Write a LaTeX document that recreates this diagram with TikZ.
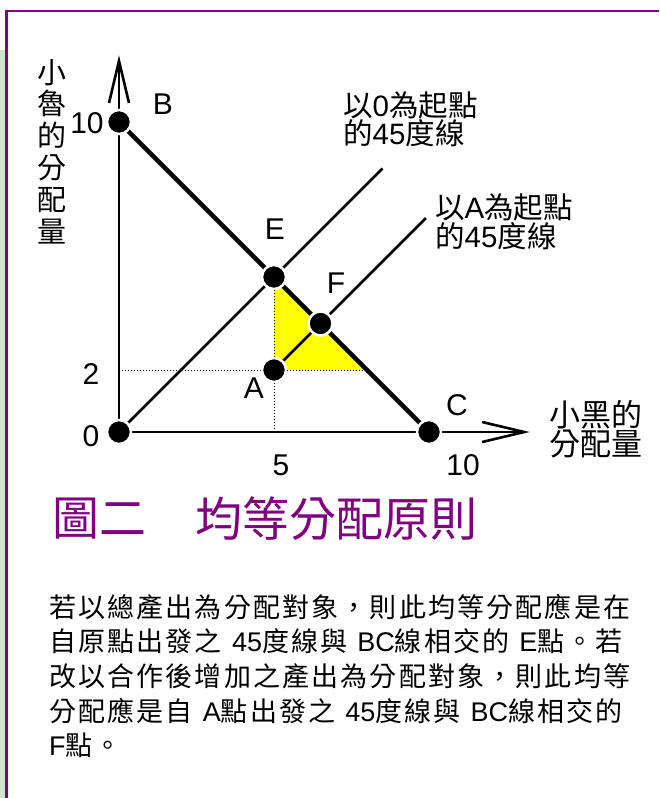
\documentclass[tikz,border=0pt]{standalone}
\usepackage{fontspec}
\setmainfont{Liberation Sans}
\newfontfamily\cjk{Noto Sans CJK TC}
\newfontfamily\cjkp[LetterSpace=8]{Noto Sans CJK TC}
\usetikzlibrary{arrows.meta}
\definecolor{purp}{RGB}{128,0,128}
\definecolor{lgreen}{RGB}{206,228,206}
\definecolor{yel}{RGB}{255,255,0}
\tikzset{
  axisline/.style={line width=2.6pt,-{Straight Barb[length=42pt,width=20pt,line width=2.6pt]}},
  diagline/.style={line width=2.6pt},
  budget/.style={line width=4.5pt},
  guide/.style={dotted,line width=1pt},
  dot/.style={circle,fill=black,draw=white,line width=2.5pt,minimum size=24pt,inner sep=0pt},
  lab/.style={font=\fontsize{30}{32}\selectfont,inner sep=0pt},
  cjklab/.style={font=\cjk\fontsize{30}{28}\selectfont,inner sep=0pt},
  para/.style={font=\fontsize{27}{30}\selectfont,anchor=west,inner sep=0pt},
  titletext/.style={font=\cjk\fontsize{47}{50}\selectfont,text=purp,anchor=west,inner sep=0pt}
}
\newcommand\gap{\hspace{10pt}}
\begin{document}
\begin{tikzpicture}[x=1pt,y=-1pt]
\useasboundingbox (0,0) rectangle (659,798);
\fill[white] (0,0) rectangle (659,798);
\fill[lgreen] (0,50) rectangle (5,798);
\draw[purp,line width=2.2pt] (6.5,798) -- (6.5,11) -- (659,11);

\begin{scope}[shift={(119,432)},x=31pt,y=31pt]
  \coordinate (O) at (0,0);
  \coordinate (B) at (0,10);
  \coordinate (C) at (10,0);
  \coordinate (E) at (5,5);
  \coordinate (A) at (5,2);
  \coordinate (F) at (6.5,3.5);
  \coordinate (G) at (8,2);
  \coordinate (Y2) at (0,2);
  \coordinate (X5) at (5,0);
  \coordinate (Ytip) at (0,12.15);
  \coordinate (Xtip) at (13.25,0);
  \coordinate (Oend) at (8.5,8.5);
  \coordinate (Aend) at (9.9,6.9);

  \fill[yel] (E) -- (A) -- (G) -- cycle;
  \draw[guide] (Y2) -- (G);
  \draw[guide] (X5) -- (E);
  \draw[axisline] (O) -- (Ytip);
  \draw[axisline] (O) -- (Xtip);
  \draw[diagline] (O) -- (Oend);
  \draw[diagline] (A) -- (Aend);
  \draw[budget] (B) -- (C);

  \node[dot] (dO) at (O) {};
  \node[dot] (dB) at (B) {};
  \node[dot] (dC) at (C) {};
  \node[dot] (dE) at (E) {};
  \node[dot] (dA) at (A) {};
  \node[dot] (dF) at (F) {};
\end{scope}

\node[lab] (l10y) at (87,123) {10};
\node[lab] (lB) at (163,104) {B};
\node[lab] (lE) at (275,229) {E};
\node[lab] (lF) at (336,283) {F};
\node[lab] (lA) at (254,388) {A};
\node[lab] (l2) at (91,374) {2};
\node[lab] (l0) at (91,436) {0};
\node[lab] (l5) at (281,465) {5};
\node[lab] (l10x) at (463,465) {10};
\node[lab] (lC) at (457,405) {C};

\node[cjklab,align=center,font=\cjk\fontsize{29}{31.8}\selectfont] (ylab) at (52,151.5) {小\\魯\\的\\分\\配\\量};
\node[cjklab,align=left,anchor=west,font=\cjk\fontsize{31}{28}\selectfont] (xlab) at (549,429) {小黑的\\分配量};

\node[inner sep=0pt,anchor=west,align=left,font=\fontsize{29.5}{28}\selectfont] (l45o) at (343,119)
  {{\cjk 以}0{\cjk 為起點}\\{\cjk 的}45{\cjk 度線}};
\node[inner sep=0pt,anchor=west,align=left,font=\fontsize{29.5}{27}\selectfont] (l45a) at (435,222)
  {{\cjk 以}A{\cjk 為起點}\\{\cjk 的}45{\cjk 度線}};

\node[titletext] (t1) at (52,519) {圖二};
\node[titletext] (t2) at (195,519) {均等分配原則};

\node[para] (p1) at (49,607) {\cjkp 若以總產出為分配對象，則此均等分配應是在};
\node[para] (p2) at (49,641) {{\cjkp 自原點出發之}\gap45{\cjkp 度線與}\gap BC{\cjkp 線相交的}\gap E{\cjkp 點。若}};
\node[para] (p3) at (49,676) {\cjkp 改以合作後增加之產出為分配對象，則此均等};
\node[para] (p4) at (49,711) {{\cjkp 分配應是自}\gap A{\cjkp 點出發之}\gap45{\cjkp 度線與}\gap BC{\cjkp 線相交的}};
\node[para] (p5) at (49,745) {F{\cjkp 點。}};
\end{tikzpicture}
\end{document}
